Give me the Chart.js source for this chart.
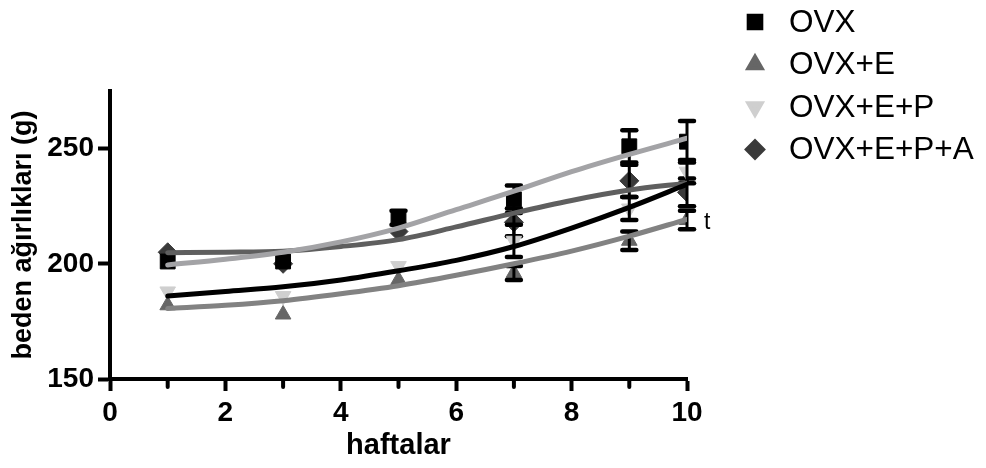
<!DOCTYPE html>
<html><head><meta charset="utf-8">
<script src="https://cdn.jsdelivr.net/npm/chart.js@4.4.0/dist/chart.umd.min.js"></script>
<style>html,body{margin:0;padding:0;background:#fff;}</style>
</head><body>
<canvas id="c" width="986" height="468" style="width:986px;height:468px;display:block"></canvas>
<script>
// ---- data ----
const weeks = [1, 3, 5, 7, 9, 10];
const seriesNames = ['OVX', 'OVX+E', 'OVX+E+P', 'OVX+E+P+A'];
const ovx    = [201, 201, 220, 228, 251, 253];
const ovxE   = [182, 178, 193, 196, 210, 219];
const ovxEP  = [188, 186, 199, 210, 224, 240];
const ovxEPA = [205, 200, 214, 218, 236, 231];
const errOvx    = [0, 0, 3, 6, 7, 9];
const errOvxE   = [0, 0, 0, 3, 4, 4];
const errOvxEP  = [0, 0, 0, 7, 5, 5];
const errOvxEPA = [0, 0, 0, 6, 7, 6];
// fitted curves
const fitWeeks  = [1, 2, 3, 4, 5, 6, 7, 8, 9, 10];
const fitOvx    = [199.5, 202, 205, 209.5, 215.5, 223.5, 231.5, 240, 247.5, 254.5];
const fitOvxE   = [180.6, 182, 184, 187, 190.5, 195, 200, 205.5, 212, 219.3];
const fitOvxEP  = [186, 188, 190, 193, 197, 201.5, 207.5, 215.5, 224.5, 234.5];
const fitOvxEPA = [204.8, 205, 205.5, 207.5, 210.5, 216, 222, 227.5, 232, 235];
const xTicks = [0, 2, 4, 6, 8, 10];
const xMinorTicks = [1, 3, 5, 7, 9];
const yTicks = [150, 200, 250];
const noteText = 't';

const FONT = "'Liberation Sans', Arial, Helvetica, sans-serif";
const pts = (xs, ys) => xs.map((x, i) => ({x: x, y: ys[i]}));

const markers = [
  {color: '#000000', style: 'rect', radius: 10.5, rotation: 0},
  {color: '#666666', style: 'triangle', radius: 9, rotation: 0},
  {color: '#cfcfcf', style: 'triangle', radius: 9, rotation: 180},
  {color: '#3a3a3a', style: 'rectRot', radius: 9.5, rotation: 0},
];
const fitColors = ['#a3a3a6', '#828282', '#000000', '#5f5f5f'];
const values = [ovx, ovxE, ovxEP, ovxEPA];
const errs = [errOvx, errOvxE, errOvxEP, errOvxEPA];
const fits = [fitOvx, fitOvxE, fitOvxEP, fitOvxEPA];

const datasets = [];
// fit lines first -> drawn on top
fits.forEach((f, i) => datasets.push({
  label: seriesNames[i] + ' fit', data: pts(fitWeeks, f), showLine: true,
  borderColor: fitColors[i], borderWidth: 5, pointRadius: 0, fill: false,
  cubicInterpolationMode: 'monotone', borderCapStyle: 'round'
}));
values.forEach((v, i) => datasets.push({
  label: seriesNames[i], data: pts(weeks, v), showLine: false,
  pointStyle: markers[i].style, pointRadius: markers[i].radius, pointRotation: markers[i].rotation,
  backgroundColor: markers[i].color, borderColor: markers[i].color, pointBorderWidth: 1,
  errIndex: i
}));

const errorBars = {
  id: 'errorBars',
  afterDatasetDraw(chart, args) {
    const ds = chart.data.datasets[args.index];
    if (ds.errIndex === undefined) return;
    const e = errs[ds.errIndex];
    const xs = chart.scales.x, ys = chart.scales.y, ctx = chart.ctx;
    ctx.save();
    ctx.strokeStyle = '#000'; ctx.lineCap = 'round';
    ds.data.forEach((p, k) => {
      if (!e[k]) return;
      const px = xs.getPixelForValue(p.x);
      const top = ys.getPixelForValue(p.y + e[k]);
      const bot = ys.getPixelForValue(p.y - e[k]);
      ctx.lineWidth = 3;
      ctx.beginPath(); ctx.moveTo(px, top); ctx.lineTo(px, bot); ctx.stroke();
      ctx.lineWidth = 4.5;
      [top, bot].forEach(yy => { ctx.beginPath(); ctx.moveTo(px - 7, yy); ctx.lineTo(px + 7, yy); ctx.stroke(); });
    });
    ctx.restore();
  }
};

const extras = {
  id: 'extras',
  afterDraw(chart) {
    const ctx = chart.ctx, xs = chart.scales.x, ys = chart.scales.y;
    ctx.save();
    // minor ticks
    ctx.strokeStyle = '#000'; ctx.lineWidth = 4; ctx.lineCap = 'round';
    xMinorTicks.forEach(v => {
      const px = xs.getPixelForValue(v);
      ctx.beginPath(); ctx.moveTo(px, chart.chartArea.bottom); ctx.lineTo(px, chart.chartArea.bottom + 8); ctx.stroke();
    });
    // 't' note next to last point
    ctx.fillStyle = '#000'; ctx.font = '23px ' + FONT; ctx.textBaseline = 'middle'; ctx.textAlign = 'left';
    ctx.fillText(noteText, xs.getPixelForValue(10) + 17, ys.getPixelForValue(218));
    // legend
    const rowsY = [22, 64.5, 107, 149.5];
    ctx.font = '31.5px ' + FONT;
    seriesNames.forEach((n, i) => {
      const m = markers[i];
      ctx.fillStyle = m.color; ctx.strokeStyle = m.color;
      Chart.helpers.drawPoint(ctx, {pointStyle: m.style, radius: m.radius * 0.85, rotation: m.rotation, borderWidth: 1}, 755, rowsY[i]);
      ctx.fillStyle = '#000';
      ctx.fillText(n, 789, rowsY[i] + 1);
    });
    ctx.restore();
  }
};

new Chart(document.getElementById('c'), {
  type: 'scatter',
  data: {datasets: datasets},
  options: {
    responsive: false, animation: false, devicePixelRatio: 1,
    layout: {padding: {left: 0, top: 91, right: 299, bottom: 0}},
    plugins: {legend: {display: false}, tooltip: {enabled: false}},
    scales: {
      x: {
        type: 'linear', min: 0, max: 10,
        afterBuildTicks: s => { s.ticks = xTicks.map(v => ({value: v})); },
        afterFit: s => { s.height = 89; },
        grid: {drawOnChartArea: false, drawTicks: true, tickLength: 12, tickWidth: 4, tickColor: '#000'},
        border: {display: true, width: 4, color: '#000'},
        ticks: {color: '#000', padding: 5, font: {family: FONT, size: 28, weight: 'bold'}},
        title: {display: true, text: 'haftalar', color: '#000', padding: {top: 0, bottom: 5}, font: {family: FONT, size: 29, weight: 'bold'}}
      },
      y: {
        type: 'linear', min: 150, max: 275,
        afterBuildTicks: s => { s.ticks = yTicks.map(v => ({value: v})); },
        afterFit: s => { s.width = 110; },
        grid: {drawOnChartArea: false, drawTicks: true, tickLength: 12, tickWidth: 4, tickColor: '#000'},
        border: {display: true, width: 4, color: '#000'},
        ticks: {color: '#000', padding: 4, font: {family: FONT, size: 28, weight: 'bold'}},
        title: {display: true, text: 'beden ağırlıkları (g)', color: '#000', padding: {top: 7, bottom: 0}, font: {family: FONT, size: 27, weight: 'bold'}}
      }
    }
  },
  plugins: [errorBars, extras]
});
</script>
</body></html>
